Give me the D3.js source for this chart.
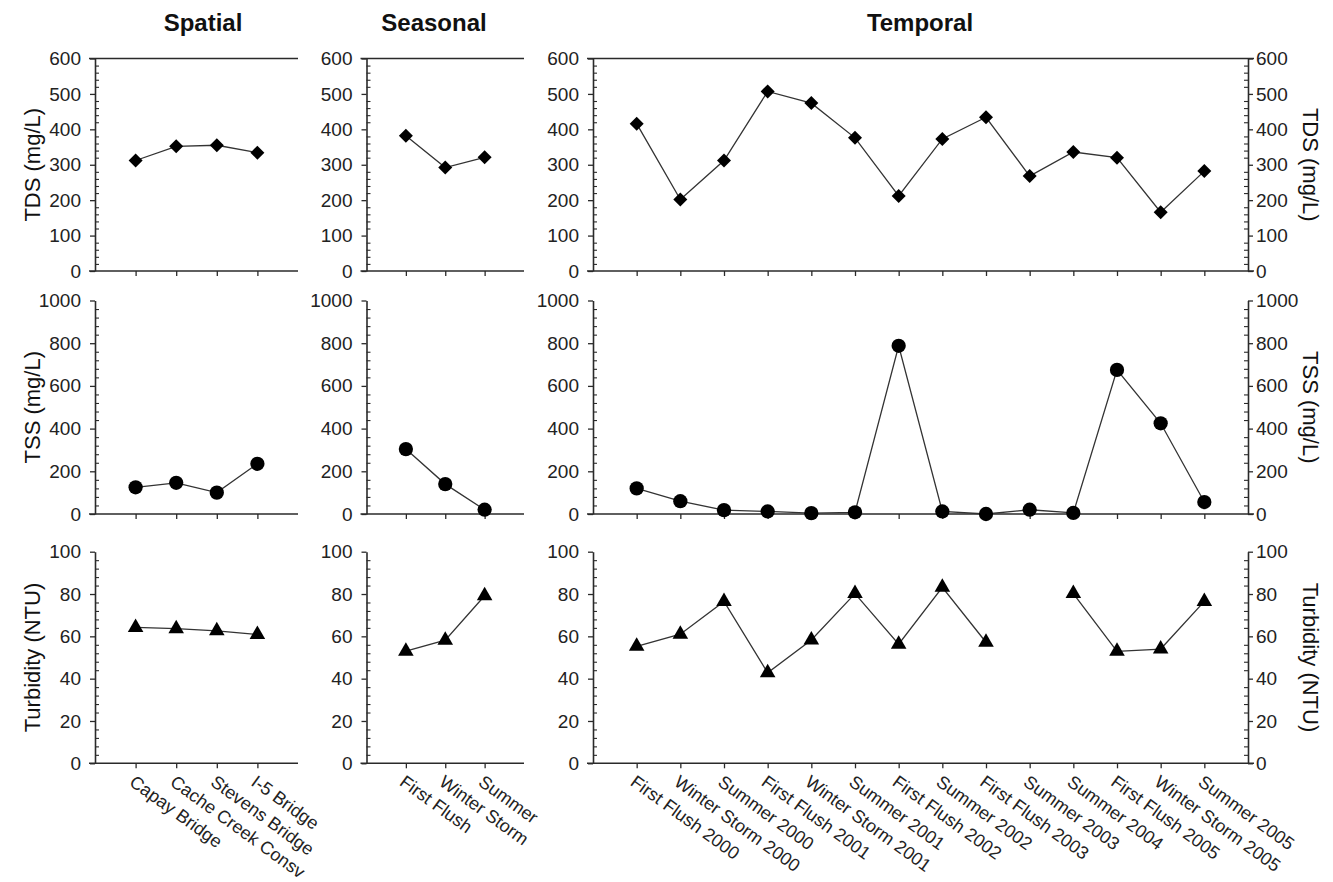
<!DOCTYPE html>
<html>
<head>
<meta charset="utf-8">
<script src="https://cdn.jsdelivr.net/npm/d3@7"></script>
<style>
  body { margin: 0; background: #fff; }
  svg { display: block; font-family: "Liberation Sans", Arial, sans-serif; }
</style>
</head>
<body>
<svg id="chart" width="1333" height="882"></svg>
<script>
// ---------------- DATA ----------------
const spatialCats = ["Capay Bridge", "Cache Creek Consv", "Stevens Bridge", "I-5 Bridge"];
const seasonalCats = ["First Flush", "Winter Storm", "Summer"];
const temporalCats = ["First Flush 2000", "Winter Storm 2000", "Summer 2000", "First Flush 2001",
  "Winter Storm 2001", "Summer 2001", "First Flush 2002", "Summer 2002", "First Flush 2003",
  "Summer 2003", "Summer 2004", "First Flush 2005", "Winter Storm 2005", "Summer 2005"];

const tdsSpatial = [312, 352, 355, 334];
const tdsSeasonal = [382, 292, 321];
const tdsTemporal = [416, 202, 312, 507, 474, 376, 212, 373, 434, 268, 336, 320, 166, 282];

const tssSpatial = [125, 146, 100, 235];
const tssSeasonal = [304, 140, 20];
const tssTemporal = [120, 60, 18, 12, 4, 8, 788, 12, 0, 20, 5, 675, 425, 56];

const turbSpatial = [64.2, 63.6, 62.6, 60.9];
const turbSeasonal = [53.0, 58.2, 79.2];
const turbTemporal = [55.3, 61.0, 76.5, 42.8, 58.3, 80.2, 56.3, 83.2, 57.2, null, 80.2, 52.9, 54.0, 76.5];

const tdsTicks = [0, 100, 200, 300, 400, 500, 600];
const tssTicks = [0, 200, 400, 600, 800, 1000];
const turbTicks = [0, 20, 40, 60, 80, 100];

const panelTitles = ["Spatial", "Seasonal", "Temporal"];
const rowTitles = ["TDS (mg/L)", "TSS (mg/L)", "Turbidity (NTU)"];

// ---------------- LAYOUT ----------------
const svg = d3.select("#chart");
const INK = "#2a2a2a";
const FONT = "Liberation Sans, Arial, sans-serif";

const panels = [
  { cats: spatialCats, x0: 95, x1: 298, titleX: 203 },
  { cats: seasonalCats, x0: 366.5, x1: 524, titleX: 434 },
  { cats: temporalCats, x0: 593, x1: 1248, titleX: 920, rightAxis: true }
];

const rows = [
  { y0: 271, y1: 58.5, ticks: tdsTicks, minorStep: 20, data: [tdsSpatial, tdsSeasonal, tdsTemporal], symbol: "diamond", topLine: true },
  { y0: 514, y1: 300.5, ticks: tssTicks, minorStep: 40, data: [tssSpatial, tssSeasonal, tssTemporal], symbol: "circle" },
  { y0: 763.3, y1: 551.7, ticks: turbTicks, minorStep: 4, data: [turbSpatial, turbSeasonal, turbTemporal], symbol: "triangle" }
];

const symbols = {
  diamond: d3.symbol().type(d3.symbolSquare).size(98),
  circle: d3.symbol().type(d3.symbolCircle).size(160),
  triangle: d3.symbol().type(d3.symbolTriangle).size(105)
};

// Panel titles
panelTitles.forEach((t, i) => {
  svg.append("text")
    .attr("x", panels[i].titleX).attr("y", 31)
    .attr("text-anchor", "middle")
    .attr("font-size", 24).attr("font-weight", "bold").attr("fill", "#111")
    .text(t);
});

rows.forEach((row, ri) => {
  const y = d3.scaleLinear().domain([row.ticks[0], row.ticks[row.ticks.length - 1]]).range([row.y0, row.y1]);
  const yMax = row.ticks[row.ticks.length - 1];
  const minors = d3.range(0, yMax + 0.0001, row.minorStep).filter(v => !row.ticks.includes(v));

  // Row axis titles
  const yMid = (row.y0 + row.y1) / 2;
  svg.append("text")
    .attr("transform", `translate(40,${yMid}) rotate(-90)`)
    .attr("text-anchor", "middle").attr("font-size", 22).attr("fill", "#111")
    .text(rowTitles[ri]);
  svg.append("text")
    .attr("transform", `translate(1303,${yMid}) rotate(90)`)
    .attr("text-anchor", "middle").attr("font-size", 22).attr("fill", "#111")
    .text(rowTitles[ri]);

  panels.forEach((p, pi) => {
    const n = p.cats.length;
    const x = d3.scaleLinear().domain([0, n + 1]).range([p.x0, p.x1]);
    const g = svg.append("g");

    // left axis majors
    const ax = g.append("g").attr("transform", `translate(${p.x0},0)`)
      .call(d3.axisLeft(y).tickValues(row.ticks).tickFormat(d3.format("d")).tickSize(5).tickSizeOuter(0).tickPadding(9));
    ax.select(".domain").attr("stroke", INK).attr("stroke-width", 1.6);
    ax.selectAll(".tick line").attr("stroke", INK).attr("stroke-width", 1.3);
    ax.selectAll(".tick text").attr("font-size", 19).attr("fill", "#222").attr("font-family", FONT);
    // left axis minors (inside)
    const mx = g.append("g").attr("transform", `translate(${p.x0},0)`)
      .call(d3.axisRight(y).tickValues(minors).tickSize(4).tickFormat(""));
    mx.select(".domain").remove();
    mx.selectAll(".tick line").attr("stroke", INK).attr("stroke-width", 1.1);

    if (p.rightAxis) {
      const rx = g.append("g").attr("transform", `translate(${p.x1},0)`)
        .call(d3.axisRight(y).tickValues(row.ticks).tickFormat(d3.format("d")).tickSize(5).tickSizeOuter(0).tickPadding(3));
      rx.select(".domain").attr("stroke", INK).attr("stroke-width", 1.6);
      rx.selectAll(".tick line").attr("stroke", INK).attr("stroke-width", 1.3);
      rx.selectAll(".tick text").attr("font-size", 19).attr("fill", "#222").attr("font-family", FONT);
      const rmx = g.append("g").attr("transform", `translate(${p.x1},0)`)
        .call(d3.axisLeft(y).tickValues(minors).tickSize(4).tickFormat(""));
      rmx.select(".domain").remove();
      rmx.selectAll(".tick line").attr("stroke", INK).attr("stroke-width", 1.1);
    }

    // bottom axis
    const bx = g.append("g").attr("transform", `translate(0,${row.y0})`)
      .call(d3.axisBottom(x).tickValues(d3.range(1, n + 1)).tickSize(5).tickSizeOuter(0)
        .tickFormat(ri === 2 ? (d => p.cats[d - 1]) : ""));
    bx.select(".domain").remove();
    bx.selectAll(".tick line").attr("stroke", INK).attr("stroke-width", 1.3);
    g.append("line")
      .attr("x1", p.x0 - 6).attr("x2", p.rightAxis ? p.x1 + 6 : p.x1)
      .attr("y1", row.y0).attr("y2", row.y0)
      .attr("stroke", INK).attr("stroke-width", 1.6);
    if (ri === 2) {
      bx.selectAll(".tick text")
        .attr("font-size", 18).attr("fill", "#222").attr("font-family", FONT)
        .attr("text-anchor", "start")
        .attr("transform", "translate(1,9) rotate(36)")
        .attr("dy", "0.72em").attr("y", 2).attr("x", 0);
    }

    if (row.topLine) {
      g.append("line")
        .attr("x1", p.x0 - 6).attr("x2", p.rightAxis ? p.x1 + 6 : p.x1)
        .attr("y1", row.y1).attr("y2", row.y1)
        .attr("stroke", INK).attr("stroke-width", 1.6);
    }

    // data line + markers
    const vals = row.data[pi];
    const pts = vals.map((v, i) => ({ i: i + 1, v }));
    const line = d3.line().defined(d => d.v != null).x(d => x(d.i)).y(d => y(d.v));
    g.append("path").datum(pts)
      .attr("d", line).attr("fill", "none").attr("stroke", "#333").attr("stroke-width", 1.3);
    g.selectAll("path.mk").data(pts.filter(d => d.v != null)).enter()
      .append("path").attr("class", "mk")
      .attr("d", symbols[row.symbol])
      .attr("transform", d => `translate(${x(d.i)},${y(d.v)})` + (row.symbol === "diamond" ? " rotate(45)" : ""))
      .attr("fill", "#000");
  });
});
</script>
</body>
</html>
